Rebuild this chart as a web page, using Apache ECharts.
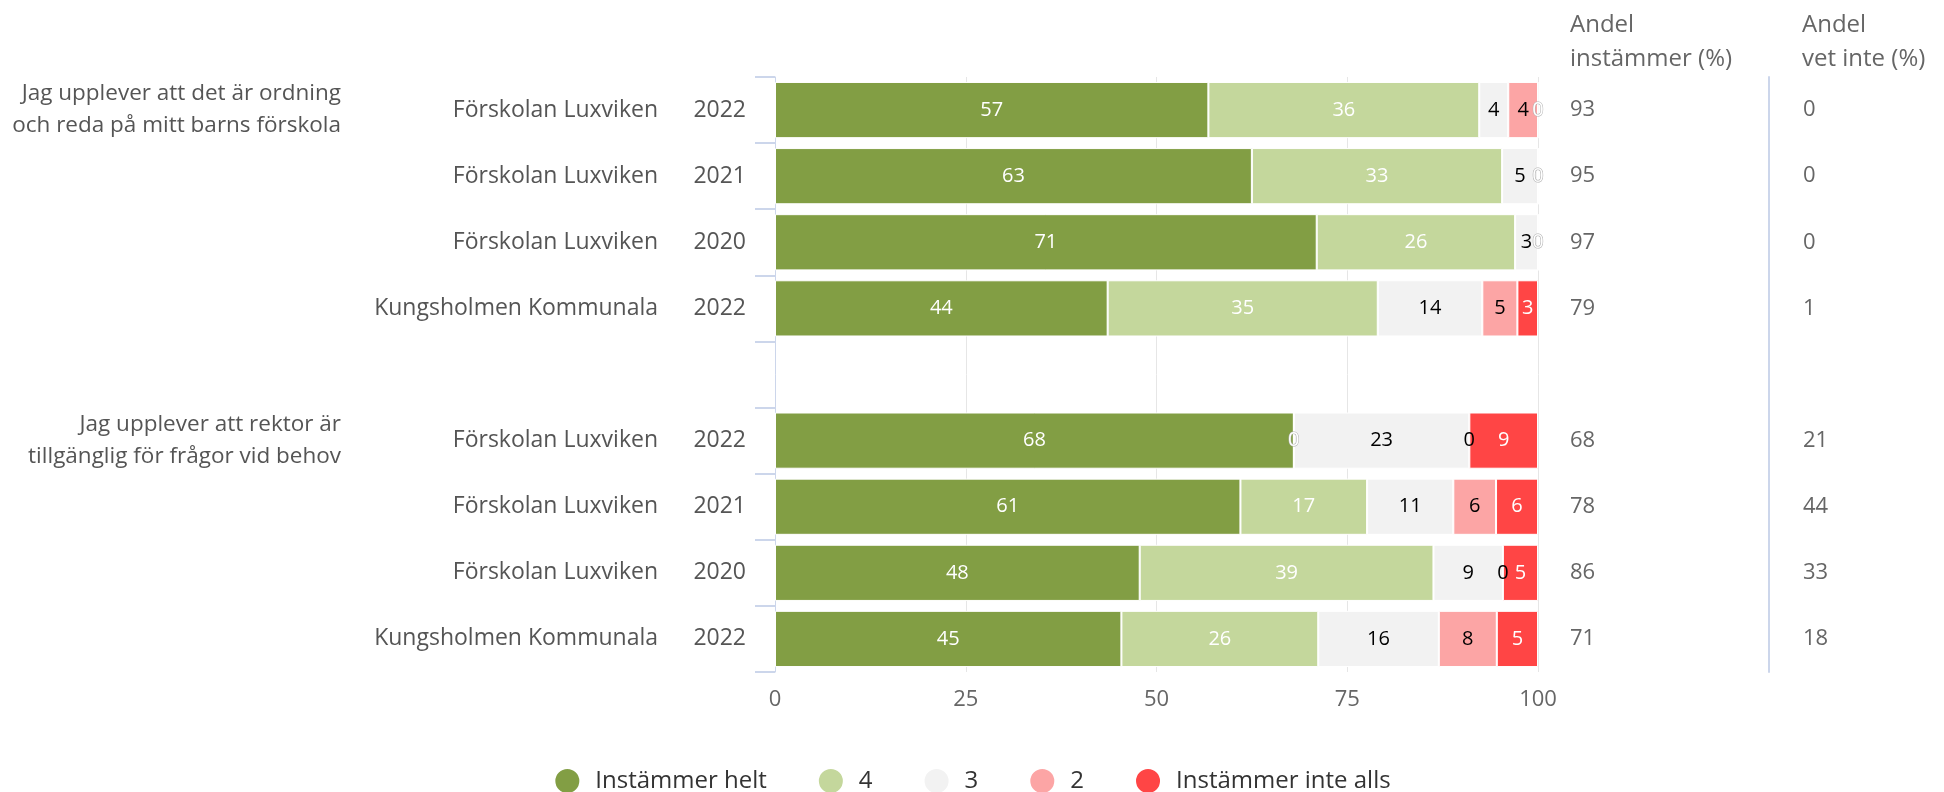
<!DOCTYPE html>
<html>
<head>
<meta charset="utf-8">
<script src="https://cdn.jsdelivr.net/npm/echarts@6/dist/echarts.min.js"></script>
<style>
html,body{margin:0;padding:0;background:#fff;}
#chart{width:1944px;height:792px;}
</style>
</head>
<body>
<div id="chart"></div>
<script>
// ---- data ----
const rowNames = ['Förskolan Luxviken','Förskolan Luxviken','Förskolan Luxviken','Kungsholmen Kommunala','',
                  'Förskolan Luxviken','Förskolan Luxviken','Förskolan Luxviken','Kungsholmen Kommunala'];
const rowYears = ['2022','2021','2020','2022','','2022','2021','2020','2022'];
const groupLabels = ['Jag upplever att det är ordning\noch reda på mitt barns förskola','','','','',
                     'Jag upplever att rektor är\ntillgänglig för frågor vid behov','','',''];
const seriesNames = ['Instämmer helt','4','3','2','Instämmer inte alls'];
const helt      = [56.8, 62.5, 71.0, 43.6, null, 68.0, 61.0, 47.8, 45.4];
const fyra      = [35.5, 32.8, 26.0, 35.4, null,  0.0, 16.6, 38.5, 25.8];
const tre       = [ 3.8,  4.7,  3.0, 13.7, null, 23.0, 11.3,  9.1, 15.8];
const tva       = [ 3.9,  0.0,  0.0,  4.6, null,  0.0,  5.6,  0.0,  7.6];
const inteAlls  = [ 0.0,  0.0,  0.0,  2.7, null,  9.0,  5.5,  4.6,  5.4];
const andelInstammer = ['93','95','97','79','','68','78','86','71'];
const andelVetInte   = ['0','0','0','1','','21','44','33','18'];
const xTicks = [0, 25, 50, 75, 100];
const headerInstammer = 'Andel\ninstämmer (%)';
const headerVetInte = 'Andel\nvet inte (%)';

// ---- styles ----
const colors = ['#829e44','#c4d79c','#f2f2f2','#fca5a5','#ff4545'];
const labelColors = ['#ffffff','#ffffff','#000000','#000000','#ffffff'];
const FONT = 'Open Sans';
const seriesData = [helt, fyra, tre, tva, inteAlls];

const chart = echarts.init(document.getElementById('chart'));

const series = seriesData.map((d, i) => ({
  name: seriesNames[i],
  type: 'bar',
  stack: 'total',
  data: d,
  barCategoryGap: '15%',
  itemStyle: { color: colors[i], borderColor: '#ffffff', borderWidth: 1 },
  label: {
    show: true,
    position: 'inside',
    color: labelColors[i],
    fontFamily: FONT,
    fontSize: 20,
    formatter: p => {
      if (p.value === null || p.value === undefined || p.value === '-') return '';
      const v = Math.round(p.value);
      if (v === 0 && labelColors[i] === '#ffffff') return '{z|0}';
      return String(v);
    },
    rich: {
      z: { color: '#ffffff', textBorderColor: '#b0b0b0', textBorderWidth: 1, fontFamily: FONT, fontSize: 20 }
    }
  },
  emphasis: { disabled: true }
}));

const option = {
  animation: false,
  backgroundColor: '#ffffff',
  textStyle: { fontFamily: FONT },
  title: [
    { text: headerInstammer, left: 1565, top: 3,
      textStyle: { fontFamily: FONT, fontSize: 24, fontWeight: 'normal', color: '#666', lineHeight: 34 } },
    { text: headerVetInte, left: 1797, top: 3,
      textStyle: { fontFamily: FONT, fontSize: 24, fontWeight: 'normal', color: '#666', lineHeight: 34 } }
  ],
  legend: {
    data: seriesNames,
    top: 762,
    left: 'center',
    icon: 'circle',
    itemWidth: 26,
    itemHeight: 26,
    itemGap: 50,
    textStyle: { fontFamily: FONT, fontSize: 24, color: '#333', padding: [0, 0, 0, 10] }
  },
  grid: { left: 775, right: 406, top: 77, height: 595, containLabel: false },
  xAxis: {
    type: 'value',
    min: 0, max: 100, interval: 25,
    axisLine: { show: false },
    axisTick: { show: false },
    splitLine: { lineStyle: { color: '#e6e6e6', width: 1 } },
    axisLabel: { color: '#666', fontSize: 22, fontFamily: FONT, margin: 17,
      formatter: v => xTicks.includes(v) ? String(v) : '' }
  },
  yAxis: [
    {
      type: 'category', inverse: true, position: 'left',
      data: rowNames.map((n, i) => ({ value: n + '|' + rowYears[i] })),
      axisLine: { show: true, lineStyle: { color: '#ccd6eb', width: 1 } },
      axisTick: { show: true, length: 20, lineStyle: { color: '#ccd6eb', width: 2 } },
      axisLabel: {
        margin: 29,
        formatter: (v) => {
          const parts = v.split('|');
          if (!parts[0]) return '';
          return '{n|' + parts[0] + '}{y|' + parts[1] + '}';
        },
        rich: {
          n: { fontFamily: FONT, fontSize: 23, color: '#555', align: 'right' },
          y: { fontFamily: FONT, fontSize: 23, color: '#555', width: 88, align: 'right' }
        }
      }
    },
    {
      type: 'category', inverse: true, position: 'left', offset: 434,
      data: groupLabels,
      axisLine: { show: false }, axisTick: { show: false },
      axisLabel: { margin: 0, fontFamily: FONT, fontSize: 22.5, color: '#555', lineHeight: 32, align: 'right' }
    },
    {
      type: 'category', inverse: true, position: 'right', offset: 0,
      data: andelInstammer,
      axisLine: { show: false }, axisTick: { show: false },
      axisLabel: { margin: 32, fontFamily: FONT, fontSize: 22, color: '#666' }
    },
    {
      type: 'category', inverse: true, position: 'right', offset: 231,
      data: andelVetInte,
      axisLine: { show: true, lineStyle: { color: '#ccd6eb', width: 2 } },
      axisTick: { show: false },
      axisLabel: { margin: 34, fontFamily: FONT, fontSize: 22, color: '#666' }
    }
  ],
  series: series
};
chart.setOption(option);
</script>
</body>
</html>
